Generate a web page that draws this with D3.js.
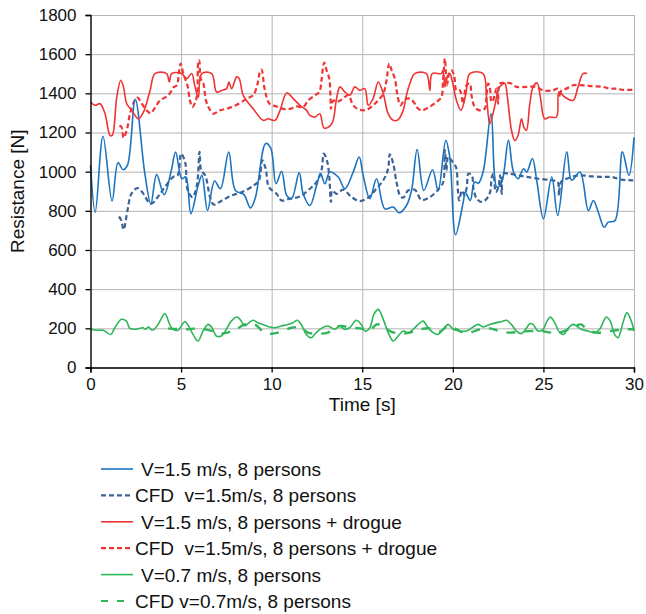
<!DOCTYPE html>
<html>
<head>
<meta charset="utf-8">
<script src="https://cdn.jsdelivr.net/npm/d3@7"></script>
<style>
    body { margin: 0; background: #fff; }
    text { font-family: "Liberation Sans", Arial, sans-serif; fill: #111; }
</style>
</head>
<body>
<div id="chart"></div>
<script>
// data: time [s] and resistance [N]
var blueT = [0, 0.26, 0.69, 1.19, 1.52, 1.8, 2.04, 2.47, 3.0, 3.33, 3.65, 4.07, 4.44, 4.7, 5.04, 5.26, 5.54, 5.93, 6.15, 6.46, 6.85, 7.17, 7.63, 8.0, 8.46, 8.83, 9.1, 9.67, 9.95, 10.24, 10.55, 10.83, 11.1, 11.52, 11.74, 12.11, 12.48, 12.7, 12.94, 13.21, 13.67, 14.04, 14.5, 14.83, 15.05, 15.42, 15.79, 16.25, 16.71, 17.04, 17.44, 17.72, 18.03, 18.4, 18.88, 19.19, 19.61, 19.83, 20.15, 20.59, 20.68, 20.96, 21.2, 21.42, 21.69, 22.11, 22.43, 22.7, 23.07, 23.35, 23.62, 23.9, 24.08, 24.39, 24.63, 25.0, 25.46, 25.79, 26.29, 26.56, 27.02, 27.48, 27.76, 28.03, 28.35, 28.58, 28.95, 29.36, 29.72, 30];
var blueV = [1033, 793, 1181, 850, 1046, 1010, 1033, 1370, 990, 836, 985, 882, 998, 1100, 964, 973, 785, 925, 981, 802, 952, 913, 1100, 904, 884, 815, 867, 1144, 1120, 938, 1002, 879, 862, 995, 887, 827, 930, 990, 938, 998, 973, 913, 998, 1075, 981, 862, 964, 810, 819, 790, 827, 904, 1113, 904, 1010, 904, 1160, 1075, 678, 853, 896, 853, 947, 942, 1007, 1297, 921, 947, 1160, 998, 964, 1015, 998, 1067, 956, 759, 973, 776, 1101, 956, 998, 802, 853, 793, 716, 742, 750, 1101, 981, 1175];

var cfdBlueT = [1.57, 1.7, 1.83, 2.04, 2.26, 2.59, 2.85, 3.33, 3.74, 4.1, 4.57, 4.81, 5.0, 5.22, 5.37, 5.63, 5.87, 6.02, 6.11, 6.33, 6.61, 6.8, 7.26, 7.81, 8.37, 9.02, 9.3, 9.48, 9.67, 9.85, 10.27, 10.55, 11.01, 11.56, 12.11, 12.48, 12.75, 12.88, 13.07, 13.18, 13.27, 13.34, 13.58, 13.95, 14.41, 14.87, 15.33, 15.7, 16.16, 16.43, 16.52, 16.71, 16.89, 17.08, 17.26, 17.53, 17.9, 18.27, 18.73, 19.28, 19.47, 19.56, 19.65, 19.74, 19.92, 20.17, 20.28, 20.35, 20.5, 20.64, 20.77, 20.86, 21.05, 21.14, 21.32, 21.6, 21.87, 22.06, 22.15, 22.24, 22.37, 22.52, 22.61, 22.7, 22.79, 23.07, 23.62, 24.08, 24.72, 25.46, 25.79, 25.86, 25.97, 26.29, 26.93, 27.67, 28.31, 28.77, 29.32, 29.96];
var cfdBlueV = [771, 751, 704, 802, 887, 916, 896, 836, 874, 921, 973, 981, 1092, 1050, 904, 870, 930, 1101, 1007, 981, 867, 832, 853, 879, 896, 930, 956, 1058, 1015, 921, 887, 853, 862, 874, 913, 947, 1007, 1092, 1050, 973, 845, 904, 887, 908, 870, 850, 867, 904, 956, 1015, 1089, 1041, 947, 879, 867, 904, 908, 856, 870, 918, 947, 1110, 1007, 1075, 1058, 1024, 904, 853, 904, 879, 921, 990, 981, 913, 862, 845, 862, 896, 973, 990, 896, 921, 981, 887, 990, 990, 981, 973, 964, 956, 947, 879, 947, 964, 981, 976, 973, 973, 959, 956];

var redT = [0.01, 0.25, 0.53, 0.8, 1.08, 1.2, 1.45, 1.67, 1.82, 2.0, 2.28, 2.64, 2.92, 3.29, 3.56, 4.2, 4.35, 4.48, 5.03, 5.31, 5.58, 5.77, 5.95, 6.14, 6.69, 6.96, 7.24, 7.51, 7.64, 7.79, 8.07, 8.21, 8.43, 8.98, 9.54, 9.81, 10.18, 10.46, 10.83, 11.19, 11.56, 11.93, 12.11, 12.39, 12.66, 12.88, 13.12, 13.36, 13.58, 13.77, 14.04, 14.32, 14.59, 14.87, 15.14, 15.33, 15.6, 15.88, 16.16, 16.43, 16.71, 16.98, 17.26, 17.44, 17.63, 17.9, 18.54, 18.73, 18.86, 19.37, 19.46, 19.56, 19.68, 19.83, 19.98, 20.2, 20.45, 20.72, 20.94, 21.67, 21.86, 22.04, 22.26, 22.59, 22.87, 23.0, 23.24, 23.42, 23.6, 23.79, 23.92, 24.06, 24.25, 24.43, 24.65, 24.83, 25.07, 25.35, 25.72, 25.86, 26.18, 26.64, 26.91, 27.19, 27.41];
var redV = [1356, 1339, 1347, 1296, 1185, 1185, 1381, 1467, 1433, 1347, 1313, 1270, 1304, 1415, 1501, 1501, 1458, 1501, 1501, 1475, 1501, 1433, 1381, 1501, 1501, 1407, 1415, 1424, 1458, 1424, 1484, 1475, 1390, 1321, 1262, 1270, 1262, 1313, 1402, 1373, 1339, 1313, 1287, 1279, 1296, 1224, 1227, 1253, 1373, 1433, 1407, 1390, 1433, 1415, 1424, 1339, 1373, 1458, 1398, 1296, 1262, 1265, 1313, 1390, 1450, 1501, 1501, 1415, 1501, 1501, 1518, 1433, 1484, 1501, 1458, 1364, 1313, 1398, 1501, 1501, 1381, 1245, 1313, 1433, 1450, 1390, 1210, 1159, 1185, 1270, 1227, 1210, 1347, 1433, 1453, 1381, 1270, 1279, 1279, 1407, 1381, 1364, 1433, 1501, 1501];

var cfdRedT = [1.6, 1.72, 1.82, 2.0, 2.18, 2.4, 2.59, 2.83, 3.1, 3.32, 3.56, 3.84, 4.3, 4.61, 4.76, 4.9, 4.98, 5.12, 5.35, 5.49, 5.62, 5.82, 5.9, 5.95, 6.0, 6.08, 6.23, 6.37, 6.56, 6.78, 7.15, 7.7, 8.25, 8.62, 8.98, 9.2, 9.35, 9.44, 9.59, 9.72, 9.9, 10.27, 10.64, 11.01, 11.38, 11.74, 12.02, 12.39, 12.63, 12.75, 12.85, 12.9, 13.03, 13.18, 13.25, 13.27, 13.4, 13.58, 13.86, 14.23, 14.5, 14.87, 15.24, 15.6, 15.88, 16.16, 16.34, 16.49, 16.62, 16.8, 16.93, 17.11, 17.35, 17.63, 17.9, 17.99, 18.27, 18.64, 19.1, 19.37, 19.46, 19.56, 19.61, 19.68, 19.79, 19.92, 20.07, 20.2, 20.39, 20.57, 20.75, 20.94, 21.03, 21.21, 21.49, 21.76, 21.86, 21.95, 22.04, 22.13, 22.22, 22.41, 22.5, 22.59, 22.87, 23.24, 23.51, 24.06, 24.61, 24.98, 25.53, 25.81, 25.9, 25.99, 26.27, 26.64, 27.19, 27.74, 28.29, 28.66, 29.03, 29.39, 29.91];
var cfdRedV = [1236, 1227, 1173, 1210, 1296, 1356, 1378, 1347, 1313, 1299, 1327, 1364, 1390, 1433, 1441, 1518, 1552, 1501, 1441, 1364, 1330, 1364, 1415, 1561, 1569, 1475, 1450, 1364, 1321, 1296, 1313, 1327, 1350, 1373, 1390, 1441, 1509, 1521, 1433, 1381, 1345, 1333, 1321, 1321, 1333, 1330, 1364, 1390, 1407, 1467, 1544, 1557, 1518, 1475, 1373, 1321, 1364, 1356, 1368, 1390, 1339, 1316, 1316, 1339, 1364, 1398, 1467, 1552, 1518, 1475, 1398, 1339, 1368, 1373, 1347, 1330, 1313, 1327, 1356, 1381, 1467, 1578, 1518, 1441, 1501, 1518, 1492, 1415, 1415, 1347, 1441, 1450, 1390, 1330, 1313, 1321, 1390, 1450, 1433, 1356, 1364, 1424, 1347, 1450, 1453, 1450, 1433, 1433, 1433, 1415, 1415, 1424, 1381, 1415, 1424, 1441, 1441, 1436, 1433, 1424, 1424, 1418, 1418];

var greenT = [0.02, 0.33, 0.7, 1.12, 1.34, 1.71, 1.98, 2.17, 2.44, 2.72, 2.9, 3.03, 3.21, 3.4, 3.73, 4.1, 4.37, 4.55, 4.83, 5.2, 5.38, 5.66, 5.93, 6.21, 6.49, 6.71, 6.94, 7.22, 7.5, 7.77, 8.1, 8.32, 8.51, 8.69, 8.97, 9.24, 9.52, 9.89, 10.16, 10.53, 10.9, 11.17, 11.41, 11.63, 11.91, 12.18, 12.46, 12.74, 13.1, 13.47, 13.75, 14.02, 14.3, 14.67, 14.94, 15.15, 15.42, 15.64, 15.88, 16.16, 16.43, 16.71, 16.98, 17.26, 17.54, 17.81, 18.09, 18.36, 18.64, 18.91, 19.19, 19.47, 19.74, 20.02, 20.38, 20.75, 21.12, 21.4, 21.67, 22.04, 22.41, 22.68, 22.96, 23.23, 23.51, 23.78, 24.06, 24.24, 24.43, 24.7, 24.98, 25.16, 25.38, 25.62, 25.9, 26.12, 26.36, 26.63, 26.82, 27.09, 27.46, 27.83, 28.1, 28.47, 28.69, 28.93, 29.12, 29.39, 29.61, 29.85, 30];
var greenV = [195, 190, 190, 169, 203, 246, 237, 200, 195, 200, 203, 195, 207, 190, 220, 275, 220, 195, 190, 234, 217, 169, 135, 186, 220, 203, 161, 161, 195, 237, 258, 237, 212, 224, 241, 229, 220, 207, 203, 212, 220, 229, 241, 220, 169, 152, 178, 200, 212, 195, 212, 195, 203, 241, 220, 186, 203, 271, 297, 246, 178, 135, 161, 186, 178, 195, 220, 237, 203, 178, 169, 195, 220, 195, 186, 186, 207, 220, 207, 220, 229, 234, 241, 220, 186, 173, 200, 224, 220, 186, 195, 229, 258, 229, 178, 169, 200, 220, 212, 195, 186, 178, 195, 258, 237, 169, 152, 229, 280, 237, 186];

var cfdGreenT = [4.28, 5.0, 5.38, 5.93, 6.85, 7.22, 7.96, 8.51, 9.06, 9.61, 10.07, 10.53, 11.08, 11.63, 12.0, 12.55, 13.1, 13.47, 13.84, 14.39, 14.87, 15.42, 15.79, 16.16, 16.52, 17.08, 17.63, 18.18, 18.73, 19.28, 19.74, 20.2, 20.57, 20.94, 21.49, 22.04, 22.59, 23.14, 23.69, 24.24, 24.89, 25.44, 26.08, 26.63, 27.09, 27.37, 27.92, 28.47, 29.02, 29.57, 30];
var cfdGreenV = [200, 195, 195, 200, 183, 173, 190, 220, 220, 178, 173, 183, 203, 203, 178, 173, 178, 203, 212, 203, 200, 190, 220, 212, 186, 173, 178, 195, 200, 183, 212, 195, 178, 178, 195, 200, 186, 178, 183, 186, 186, 178, 183, 207, 220, 195, 178, 183, 190, 195, 195];

var yTicks = [0, 200, 400, 600, 800, 1000, 1200, 1400, 1600, 1800];
var xTicks = [0, 5, 10, 15, 20, 25, 30];

var seriesNames = ["V=1.5 m/s, 8 persons", "CFD  v=1.5m/s, 8 persons", "V=1.5 m/s, 8 persons + drogue",
    "CFD  v=1.5m/s, 8 persons + drogue", "V=0.7 m/s, 8 persons", "CFD v=0.7m/s, 8 persons"];

// STEP 1: SVG dimensions
var svgWidth = 646;
var svgHeight = 614;

var margin = { top: 15, left: 90.5, right: 12, bottom: 246.5 };
var width = svgWidth - margin.left - margin.right;
var height = svgHeight - margin.top - margin.bottom;

var svg = d3.select("#chart")
    .append("svg")
    .attr("width", svgWidth)
    .attr("height", svgHeight);

var chartGroup = svg.append("g")
    .attr("transform", `translate(${margin.left}, ${margin.top})`);

// STEP 2: scales
var xScale = d3.scaleLinear().domain([0, 30]).range([0, width]);
var yScale = d3.scaleLinear().domain([0, 1800]).range([height, 0]);

// grid
chartGroup.append("g")
    .attr("class", "grid")
    .call(d3.axisLeft(yScale).tickValues(yTicks).tickSize(-width).tickFormat(""))
    .call(g => g.select(".domain").remove())
    .selectAll("line").attr("stroke", "#b4b4b4");

chartGroup.append("g")
    .attr("class", "grid")
    .attr("transform", `translate(0, ${height})`)
    .call(d3.axisBottom(xScale).tickValues(xTicks).tickSize(-height).tickFormat(""))
    .call(g => g.select(".domain").remove())
    .selectAll("line").attr("stroke", "#b4b4b4");

// STEP 3: series
var series = [
    { t: blueT, v: blueV, color: "#1b74c0", width: 1.6, dash: null },
    { t: cfdBlueT, v: cfdBlueV, color: "#3b6396", width: 2.2, dash: "5,3" },
    { t: redT, v: redV, color: "#ef3434", width: 1.6, dash: null },
    { t: cfdRedT, v: cfdRedV, color: "#ef3434", width: 2.2, dash: "5,3" },
    { t: greenT, v: greenV, color: "#2fb55a", width: 1.6, dash: null },
    { t: cfdGreenT, v: cfdGreenV, color: "#2fb55a", width: 2.4, dash: "9,9" }
];

var line = d3.line()
    .x(d => xScale(d[0]))
    .y(d => yScale(d[1]))
    .curve(d3.curveCatmullRom.alpha(0.5));

// draw order: CFD first, then measurements on top
[1, 3, 5, 0, 2, 4].forEach(function(i) {
    var s = series[i];
    chartGroup.append("path")
        .datum(s.t.map((t, j) => [t, s.v[j]]))
        .attr("d", line)
        .attr("fill", "none")
        .attr("stroke", s.color)
        .attr("stroke-width", s.width)
        .attr("stroke-dasharray", s.dash)
        .attr("stroke-linejoin", "round");
});

// STEP 4: axes
var leftAxis = chartGroup.append("g")
    .call(d3.axisLeft(yScale).tickValues(yTicks).tickSize(5).tickPadding(9).tickFormat(d3.format("d")));
var bottomAxis = chartGroup.append("g")
    .attr("transform", `translate(0, ${height})`)
    .call(d3.axisBottom(xScale).tickValues(xTicks).tickSize(5).tickPadding(5));

[leftAxis, bottomAxis].forEach(function(ax) {
    ax.select(".domain").attr("stroke", "#000").attr("stroke-width", 1.3);
    ax.selectAll(".tick line").attr("stroke", "#000").attr("stroke-width", 1.3);
    ax.selectAll("text").attr("font-size", "17px").attr("fill", "#111")
        .style("font-family", "'Liberation Sans', Arial, sans-serif");
});

// axis labels
chartGroup.append("text")
    .attr("x", width / 2)
    .attr("y", height + 43)
    .attr("text-anchor", "middle")
    .attr("font-size", "19px")
    .text("Time [s]");

chartGroup.append("text")
    .attr("transform", "rotate(-90)")
    .attr("x", -height / 2)
    .attr("y", -margin.left + 24)
    .attr("text-anchor", "middle")
    .attr("font-size", "19px")
    .text("Resistance [N]");

// STEP 5: legend
var legend = svg.append("g")
    .attr("transform", "translate(101, 469)");

seriesNames.forEach(function(name, i) {
    var s = series[i];
    var row = legend.append("g").attr("transform", `translate(0, ${i * 26.4})`);
    row.append("line")
        .attr("x1", 0).attr("x2", 32)
        .attr("y1", 0).attr("y2", 0)
        .attr("stroke", s.color)
        .attr("stroke-width", s.dash ? 2.2 : 1.6)
        .attr("stroke-dasharray", i === 5 ? "7,9" : s.dash);
    row.append("text")
        .attr("x", name.startsWith("CFD") ? 34 : 40)
        .attr("y", 7)
        .attr("font-size", "19px")
        .style("white-space", "pre")
        .text(name);
});
</script>
</body>
</html>
